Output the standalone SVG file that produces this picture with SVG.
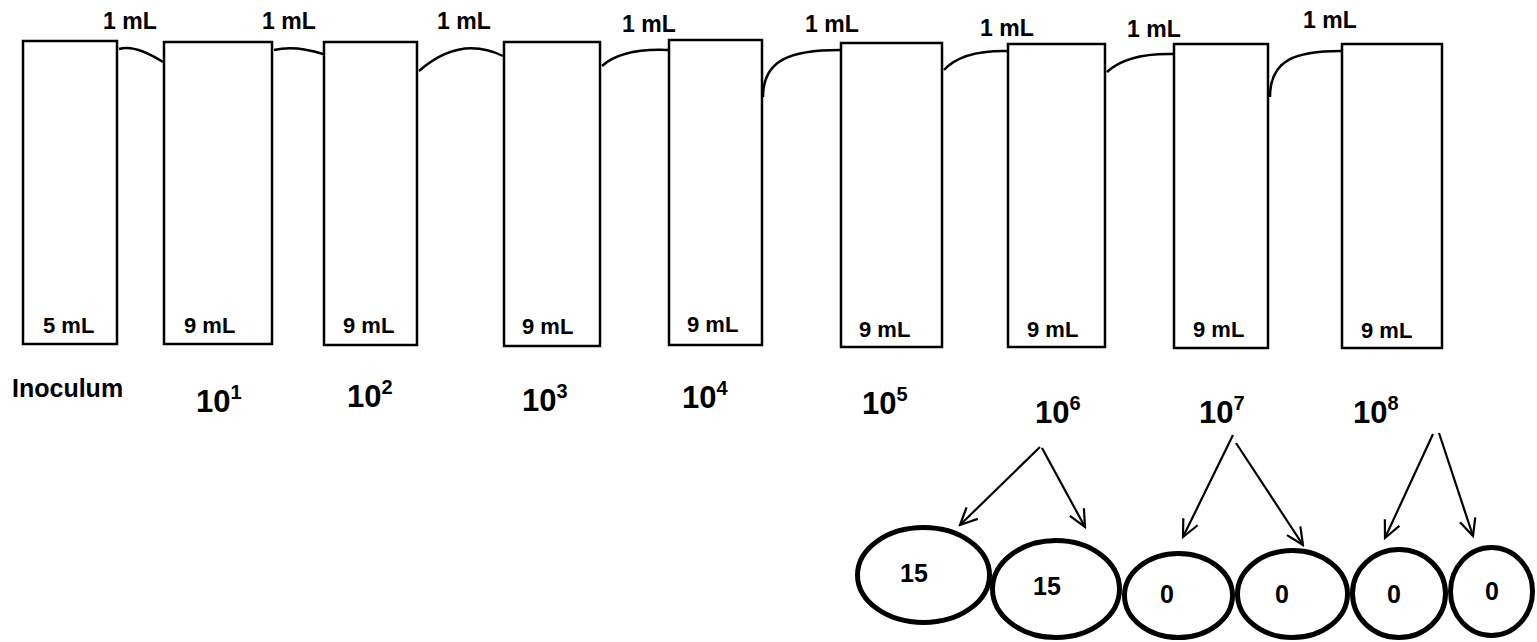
<svg xmlns="http://www.w3.org/2000/svg" width="1537" height="642" viewBox="0 0 1537 642">
<style>
text{font-family:"Liberation Sans",Arial,sans-serif;font-weight:bold;fill:#000}
.tube{fill:#fff;stroke:#000;stroke-width:2.5}
.plate{fill:#fff;stroke:#000;stroke-width:5}
.conn{fill:none;stroke:#000;stroke-width:2.5}
.arr{fill:none;stroke:#000;stroke-width:2.2;marker-end:url(#vhead)}
.ml{font-size:23px}
.vol{font-size:22px}
.dil{font-size:31px}
.sup{font-size:20px}
.cnt{font-size:25px}
</style>
<defs>
<marker id="vhead" viewBox="0 0 20 20" refX="18" refY="10" markerWidth="20" markerHeight="20" markerUnits="userSpaceOnUse" orient="auto">
<path d="M1,2 L18,10 L1,18" fill="none" stroke="#000" stroke-width="2.2"/>
</marker>
</defs>
<rect width="1537" height="642" fill="#fff"/>
<g id="connectors">
<path class="conn" d="M119,49 Q135,44 163,62"/>
<path class="conn" d="M274,50 Q295,45 323,54"/>
<path class="conn" d="M419,71 Q460,35 503,56"/>
<path class="conn" d="M602,66 Q622,48 668,50"/>
<path class="conn" d="M763,97 C763,60 790,50 840,50"/>
<path class="conn" d="M944,70 Q962,50 1008,51"/>
<path class="conn" d="M1107,72 Q1127,53 1173,54"/>
<path class="conn" d="M1270,97 C1270,60 1295,51 1341,51"/>
<line class="arr" x1="1040" y1="447" x2="960" y2="525"/>
<line class="arr" x1="1042" y1="448" x2="1085" y2="527"/>
<line class="arr" x1="1233" y1="435" x2="1183" y2="537"/>
<line class="arr" x1="1236" y1="443" x2="1303" y2="545"/>
<line class="arr" x1="1433" y1="434" x2="1385" y2="538"/>
<line class="arr" x1="1439" y1="433" x2="1473" y2="536"/>
</g>
<g id="transfer-labels">
<text class="ml" x="103" y="29">1 mL</text>
<text class="ml" x="262" y="29">1 mL</text>
<text class="ml" x="437" y="29">1 mL</text>
<text class="ml" x="622" y="32">1 mL</text>
<text class="ml" x="805" y="32">1 mL</text>
<text class="ml" x="980" y="36">1 mL</text>
<text class="ml" x="1127" y="37">1 mL</text>
<text class="ml" x="1303" y="28">1 mL</text>
</g>
<g id="tube-inoculum">
<rect class="tube" x="23" y="41" width="94" height="303"/>
<text class="vol" x="43" y="333">5 mL</text>
<text class="vol" x="12" y="397" style="font-size:25px">Inoculum</text>
</g>
<g id="tube-1">
<rect class="tube" x="164" y="42" width="108" height="302"/>
<text class="vol" x="184" y="333">9 mL</text>
<text class="dil" x="196" y="412">10<tspan class="sup" dy="-13">1</tspan></text>
</g>
<g id="tube-2">
<rect class="tube" x="324" y="42" width="93" height="303"/>
<text class="vol" x="343" y="333">9 mL</text>
<text class="dil" x="347" y="407">10<tspan class="sup" dy="-13">2</tspan></text>
</g>
<g id="tube-3">
<rect class="tube" x="504" y="42" width="96" height="304"/>
<text class="vol" x="522" y="334">9 mL</text>
<text class="dil" x="522" y="411">10<tspan class="sup" dy="-13">3</tspan></text>
</g>
<g id="tube-4">
<rect class="tube" x="669" y="40" width="93" height="305"/>
<text class="vol" x="687" y="332">9 mL</text>
<text class="dil" x="682" y="408">10<tspan class="sup" dy="-13">4</tspan></text>
</g>
<g id="tube-5">
<rect class="tube" x="841" y="43" width="101" height="304"/>
<text class="vol" x="859" y="337">9 mL</text>
<text class="dil" x="862" y="414">10<tspan class="sup" dy="-13">5</tspan></text>
</g>
<g id="tube-6">
<rect class="tube" x="1008" y="44" width="97" height="303"/>
<text class="vol" x="1027" y="337">9 mL</text>
<text class="dil" x="1035" y="423">10<tspan class="sup" dy="-13">6</tspan></text>
</g>
<g id="tube-7">
<rect class="tube" x="1174" y="44" width="94" height="304"/>
<text class="vol" x="1193" y="337">9 mL</text>
<text class="dil" x="1199" y="423">10<tspan class="sup" dy="-13">7</tspan></text>
</g>
<g id="tube-8">
<rect class="tube" x="1342" y="44" width="100" height="304"/>
<text class="vol" x="1361" y="338">9 mL</text>
<text class="dil" x="1353" y="423">10<tspan class="sup" dy="-13">8</tspan></text>
</g>
<g id="plate-1">
<ellipse class="plate" cx="923.5" cy="575" rx="66" ry="47.5"/>
<text class="cnt" x="900" y="582">15</text>
</g>
<g id="plate-2">
<ellipse class="plate" cx="1056" cy="589" rx="63.5" ry="48.5"/>
<text class="cnt" x="1033" y="595">15</text>
</g>
<g id="plate-3">
<ellipse class="plate" cx="1178.5" cy="595.5" rx="54" ry="42"/>
<text class="cnt" x="1160" y="603">0</text>
</g>
<g id="plate-4">
<ellipse class="plate" cx="1292.5" cy="594" rx="55" ry="43.5"/>
<text class="cnt" x="1275" y="603">0</text>
</g>
<g id="plate-5">
<ellipse class="plate" cx="1399" cy="593.5" rx="46.5" ry="44"/>
<text class="cnt" x="1387" y="603">0</text>
</g>
<g id="plate-6">
<ellipse class="plate" cx="1491.5" cy="591.5" rx="41" ry="44"/>
<text class="cnt" x="1485" y="600">0</text>
</g>
</svg>
